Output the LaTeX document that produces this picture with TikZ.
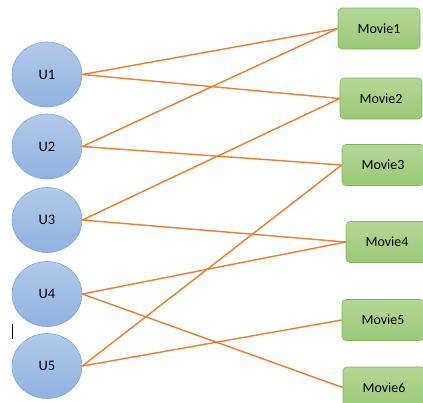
\documentclass[tikz,border=0pt]{standalone}
\usepackage{fontspec}
\setmainfont{Carlito}
\usetikzlibrary{shapes.geometric}
\definecolor{edgeor}{RGB}{237,125,49}
\definecolor{utop}{RGB}{178,202,234}
\definecolor{ubot}{RGB}{143,178,224}
\definecolor{uline}{RGB}{130,165,215}
\definecolor{mtop}{RGB}{180,215,150}
\definecolor{mbot}{RGB}{155,200,120}
\definecolor{mline}{RGB}{130,180,95}
\tikzset{
  user/.style={ellipse, minimum width=70pt, minimum height=65pt, draw=uline, line width=0.6pt,
    top color=utop, bottom color=ubot, font=\fontsize{14.5}{16}\selectfont, inner sep=0pt},
  movie/.style={rectangle, rounded corners=4pt, minimum width=82pt, minimum height=41pt, draw=mline, line width=0.6pt,
    top color=mtop, bottom color=mbot, font=\fontsize{14}{16}\selectfont, inner sep=0pt},
  link/.style={draw=edgeor, line width=1.4pt}
}
\begin{document}
\begin{tikzpicture}[x=1pt,y=-1pt]
\useasboundingbox (0,0) rectangle (423,402);
\clip (0,0) rectangle (423,402);
\fill[white] (0,0) rectangle (423,402);
\node[user] (u1) at (47,74.5) {U1};
\node[user] (u2) at (47,146.5) {U2};
\node[user] (u3) at (47,220) {U3};
\node[user] (u4) at (47,294) {U4};
\node[user] (u5) at (47,366) {U5};
\node[movie] (m1) at (379,28.5) {Movie1};
\node[movie] (m2) at (381,98.5) {Movie2};
\node[movie] (m3) at (383,165) {Movie3};
\node[movie] (m4) at (387,242) {Movie4};
\node[movie] (m5) at (383,320) {Movie5};
\node[movie] (m6) at (384,387.5) {Movie6};
\draw[link] (u1.east) -- (m1.west);
\draw[link] (u1.east) -- (m2.west);
\draw[link] (u2.east) -- (m1.west);
\draw[link] (u2.east) -- (m3.west);
\draw[link] (u3.east) -- (m2.west);
\draw[link] (u3.east) -- (m4.west);
\draw[link] (u4.east) -- (m4.west);
\draw[link] (u4.east) -- (m6.west);
\draw[link] (u5.east) -- (m3.west);
\draw[link] (u5.east) -- (m5.west);
\coordinate (cur1) at (12,324);
\coordinate (cur2) at (12,339);
\draw[black, line width=0.8pt] (cur1) -- (cur2);
\end{tikzpicture}
\end{document}
